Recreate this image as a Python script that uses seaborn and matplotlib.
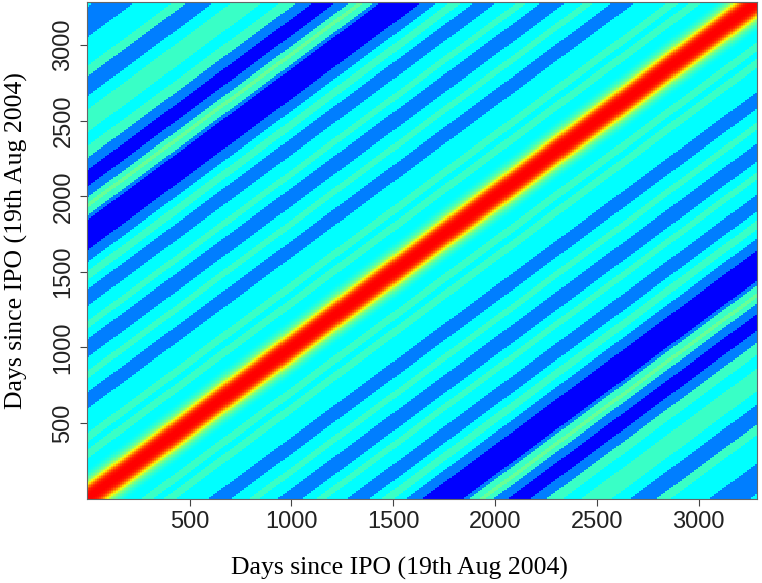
import numpy as np
import pandas as pd
import matplotlib
matplotlib.use('Agg')
import matplotlib.pyplot as plt
import seaborn as sns
from matplotlib.colors import LinearSegmentedColormap

# Lags (days) at which the colour changes, and the level from there on
# level scale: 0 = dark blue, 1/6 = blue, 1/3 = cyan, 0.5 = light green, 1 = red
diag_lags = [0, 10, 20, 30, 40, 50, 60, 70, 80, 90, 100, 110, 120, 130, 140, 150, 160, 170, 180, 190, 200]
diag_vals = [1.0, 1.0, 1.0, 0.99, 0.98, 0.96, 0.92, 0.87, 0.8, 0.72, 0.64, 0.57, 0.51, 0.47, 0.44,
             0.41, 0.39, 0.37, 0.35, 0.34, 0.333]

D, B, C, A, G = 0.0, 1/6, 1/3, 0.41, 0.47
band_starts = [210, 270, 330, 380, 440, 600, 705, 800, 850, 938, 1053, 1130, 1180, 1274, 1387,
               1450, 1510, 1566, 1650, 1850, 1880, 1930, 1960, 2000, 2067, 2180, 2260, 2340,
               2425, 2580, 2665, 2800, 2865, 3055, 3255]
band_levels = [C, A, C, A, C, B, C, A, C, B, C, A, C, B, C,
               A, C, B, D, B, A, G, A, B, D, B, A, C,
               A, C, B, A, C, B, C]

x_ticks = [500, 1000, 1500, 2000, 2500, 3000]
y_ticks = [500, 1000, 1500, 2000, 2500, 3000]

step = 10
days = np.arange(1, 3291, step)

starts = np.array(diag_lags + band_starts)
levels = np.array(diag_vals + band_levels)
lag = np.abs(days[:, None] - days[None, :])
mat = levels[np.searchsorted(starts, lag, side='right') - 1]
df = pd.DataFrame(mat, index=days, columns=days)

cmap = LinearSegmentedColormap.from_list(
    'jetlike', ['#0000FF', '#007FFF', '#00FFFF', '#7FFF7F', '#FFFF00', '#FF7F00', '#FF0000'])

fig = plt.figure(figsize=(7.62, 5.83), dpi=100)
ax = fig.add_axes([0.1142, 0.1441, 0.8792, 0.8525])
sns.heatmap(df, cmap=cmap, vmin=0, vmax=1, cbar=False, xticklabels=False,
            yticklabels=False, linewidths=0, rasterized=True, ax=ax)
ax.invert_yaxis()

def pos(v):
    return (np.array(v) - days[0]) / step + 0.5

ax.set_xticks(pos(x_ticks))
ax.set_xticklabels([str(t) for t in x_ticks], fontsize=17, family='Liberation Sans', color='#222222')
ax.set_yticks(pos(y_ticks))
ax.set_yticklabels([str(t) for t in y_ticks], fontsize=17, family='Liberation Sans', color='#222222',
                   rotation=90, va='center')
ax.tick_params(direction='out', length=5, width=0.8, color='#444444', pad=4)
for s in ax.spines.values():
    s.set_visible(True)
    s.set_color('#666666')
    s.set_linewidth(0.8)

ax.set_xlabel('Days since IPO (19th Aug 2004)', fontsize=18.5, family='Liberation Serif')
ax.set_ylabel('Days since IPO (19th Aug 2004)', fontsize=18.5, family='Liberation Serif')
ax.xaxis.set_label_coords(0.466, -0.117)
ax.yaxis.set_label_coords(-0.088, 0.52)

fig.savefig('out.png', dpi=100)
